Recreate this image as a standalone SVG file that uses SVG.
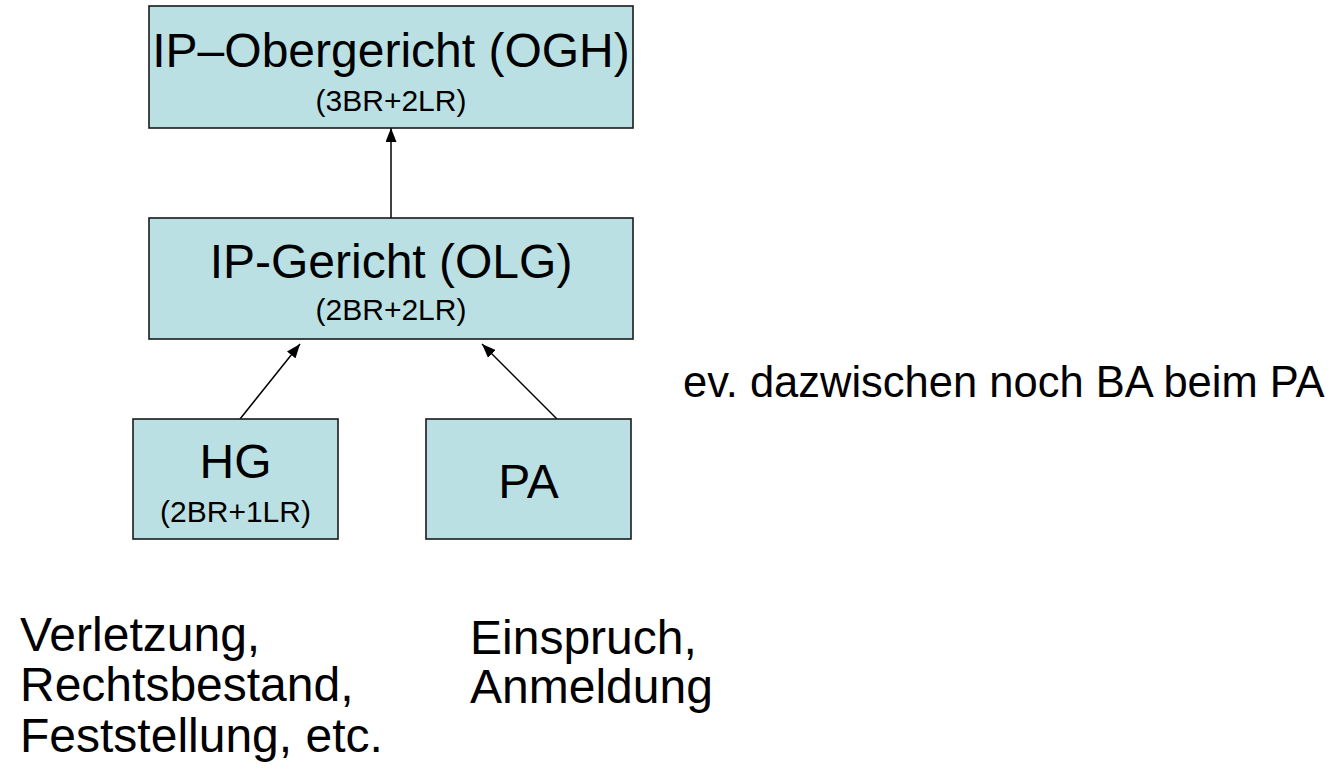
<svg xmlns="http://www.w3.org/2000/svg" width="1336" height="780" viewBox="0 0 1336 780">
  <defs>
    <marker id="arrow" viewBox="0 0 14 11" refX="14" refY="5.5" markerWidth="14" markerHeight="11" markerUnits="userSpaceOnUse" orient="auto">
      <path d="M0,0 L14,5.5 L0,11 Z" fill="#000"/>
    </marker>
    <style>
      .box { fill: #BBE0E3; stroke: #1a1a1a; stroke-width: 1.6; }
      .t { font-family: "Liberation Sans", Arial, sans-serif; fill: #000; }
      .big { font-size: 48px; text-anchor: middle; }
      .small { font-size: 30px; text-anchor: middle; }
      .note { font-size: 48px; }
      .side { font-size: 43.5px; }
      .edge { stroke: #000; stroke-width: 1.5; fill: none; marker-end: url(#arrow); }
    </style>
  </defs>
  <rect width="1336" height="780" fill="#fff"/>

  <g id="connectors">
    <line class="edge" x1="391" y1="218" x2="391" y2="128"/>
    <line class="edge" x1="240" y1="419" x2="300" y2="344"/>
    <line class="edge" x1="557" y1="419" x2="482" y2="344"/>
  </g>

  <g id="ogh">
    <rect class="box" x="149" y="6" width="484" height="122"/>
    <text class="t big" x="391" y="67">IP–Obergericht (OGH)</text>
    <text class="t small" x="391" y="111">(3BR+2LR)</text>
  </g>

  <g id="olg">
    <rect class="box" x="149" y="218" width="484" height="121"/>
    <text class="t big" x="391" y="278">IP-Gericht (OLG)</text>
    <text class="t small" x="391" y="320">(2BR+2LR)</text>
  </g>

  <g id="hg">
    <rect class="box" x="133" y="419" width="205" height="120"/>
    <text class="t big" x="235.5" y="478">HG</text>
    <text class="t small" x="235.5" y="522">(2BR+1LR)</text>
  </g>

  <g id="pa">
    <rect class="box" x="426" y="419" width="205" height="120"/>
    <text class="t big" x="528.5" y="498">PA</text>
  </g>

  <g id="notes">
    <text class="t side" x="683" y="397">ev. dazwischen noch BA beim PA</text>
    <text class="t note" x="20" y="651">Verletzung,</text>
    <text class="t note" x="20" y="701">Rechtsbestand,</text>
    <text class="t note" x="20" y="752">Feststellung, etc.</text>
    <text class="t note" x="470" y="654">Einspruch,</text>
    <text class="t note" x="470" y="703">Anmeldung</text>
  </g>
</svg>
